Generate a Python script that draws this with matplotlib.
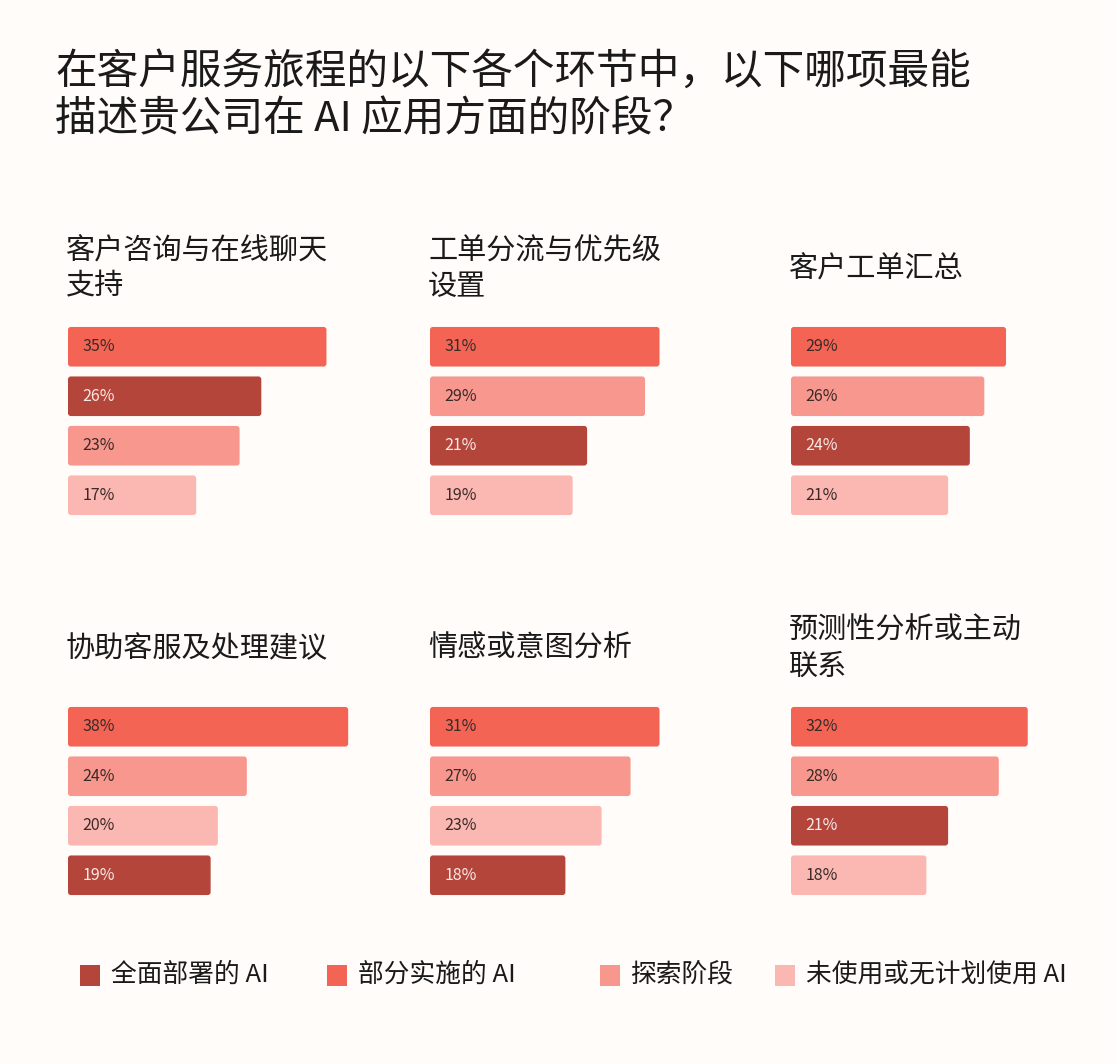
import matplotlib
matplotlib.use("Agg")
import matplotlib.pyplot as plt
from matplotlib.patches import FancyBboxPatch

plt.rcParams['font.family'] = ['Noto Sans CJK SC', 'DejaVu Sans']

title = "在客户服务旅程的以下各个环节中，以下哪项最能\n描述贵公司在 AI 应用方面的阶段？"
stages = ["全面部署的 AI", "部分实施的 AI", "探索阶段", "未使用或无计划使用 AI"]
colors = {"全面部署的 AI": "#B3453B", "部分实施的 AI": "#F46455",
          "探索阶段": "#F7978E", "未使用或无计划使用 AI": "#FBB7B1"}
panel_titles = ["客户咨询与在线聊天\n支持", "工单分流与优先级\n设置", "客户工单汇总",
                "协助客服及处理建议", "情感或意图分析", "预测性分析或主动\n联系"]
panel_stages = [
    ["部分实施的 AI", "全面部署的 AI", "探索阶段", "未使用或无计划使用 AI"],
    ["部分实施的 AI", "探索阶段", "全面部署的 AI", "未使用或无计划使用 AI"],
    ["部分实施的 AI", "探索阶段", "全面部署的 AI", "未使用或无计划使用 AI"],
    ["部分实施的 AI", "探索阶段", "未使用或无计划使用 AI", "全面部署的 AI"],
    ["部分实施的 AI", "探索阶段", "未使用或无计划使用 AI", "全面部署的 AI"],
    ["部分实施的 AI", "探索阶段", "全面部署的 AI", "未使用或无计划使用 AI"],
]
panel_values = [
    [35, 26, 23, 17],
    [31, 29, 21, 19],
    [29, 26, 24, 21],
    [38, 24, 20, 19],
    [31, 27, 23, 18],
    [32, 28, 21, 18],
]

W, H = 1117, 1064
bg = "#FFFCFA"
fig = plt.figure(figsize=(W/100, H/100), dpi=100, facecolor=bg)
fig.text(55/W, 1-52/H, title, fontsize=30, fontweight='medium', va='top', ha='left',
         color="#1a1a1a", linespacing=1.2)

pxu = 7.24
off = 0.7
lefts = [68, 430, 791]
tops = [322, 702]
for i in range(6):
    r, c = divmod(i, 3)
    x0 = lefts[c]; y0 = tops[r]
    ax = fig.add_axes([x0/W, 1-(y0+198)/H, 300/W, 198/H])
    ax.set_facecolor(bg)
    ax.set_xlim(-off, 300/pxu - off)
    ax.set_ylim(3.5, -0.5)
    ax.axis('off')
    asp = pxu / 49.5
    for j, (s, v) in enumerate(zip(panel_stages[i], panel_values[i])):
        p = FancyBboxPatch((-off, j-0.4), v + off, 0.8,
                           boxstyle="round,pad=0,rounding_size=0.4",
                           mutation_aspect=asp, fc=colors[s], ec='none')
        ax.add_patch(p)
        tc = "#FBE9E6" if s == "全面部署的 AI" else "#3a2a28"
        ax.text(1.3, j, f"{v}%", va='center', ha='left', fontsize=11.5, color=tc)
    t = panel_titles[i]
    ty = 236 if r == 0 else 616
    if "\n" not in t:
        ty += 18
    fig.text((x0-2)/W, 1-ty/H, t, fontsize=21, va='top', ha='left', color="#1a1a1a",
             linespacing=1.25)

leg_x = [80, 327, 600, 775]
for x, s in zip(leg_x, stages):
    fig.patches.append(FancyBboxPatch((x/W, 1-986/H), 20/W, 21/H, boxstyle="square,pad=0",
                                      transform=fig.transFigure, fc=colors[s], ec='none'))
    fig.text((x+31)/W, 1-975/H, s, fontsize=18.5, va='center', ha='left', color="#1a1a1a")

fig.savefig("out.png", dpi=100, facecolor=bg)
